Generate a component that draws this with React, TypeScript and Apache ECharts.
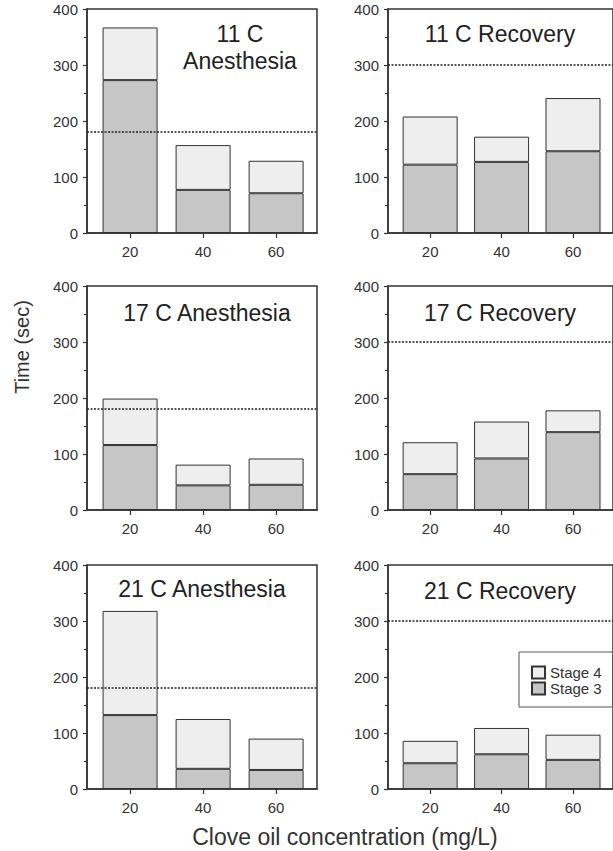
import React, { useEffect, useRef } from "react";
import * as echarts from "echarts";

// ---- data ----
const concentrations = [20, 40, 60];
const panelTitles = [
  "11 C\nAnesthesia",
  "11 C Recovery",
  "17 C Anesthesia",
  "17 C Recovery",
  "21 C Anesthesia",
  "21 C Recovery",
];
// Stage 3 (bottom segment) and Stage 4 (top segment) times in seconds
const stage3_11A = [273, 77, 71];
const stage4_11A = [94, 80, 58];
const stage3_11R = [122, 127, 146];
const stage4_11R = [86, 45, 95];
const stage3_17A = [116, 44, 45];
const stage4_17A = [83, 37, 47];
const stage3_17R = [64, 92, 139];
const stage4_17R = [57, 66, 39];
const stage3_21A = [132, 36, 34];
const stage4_21A = [186, 89, 56];
const stage3_21R = [46, 62, 52];
const stage4_21R = [40, 47, 45];
const thresholds = [180, 300, 180, 300, 180, 300];
const yTickValues = [0, 100, 200, 300, 400];

const stage3All = [stage3_11A, stage3_11R, stage3_17A, stage3_17R, stage3_21A, stage3_21R];
const stage4All = [stage4_11A, stage4_11R, stage4_17A, stage4_17R, stage4_21A, stage4_21R];

// ---- layout ----
const FONT = '"Liberation Sans", Arial, Helvetica, sans-serif';
const colLeft = [87, 388];
const rowTop = [9, 286, 565];
const gridW = 230;
const gridH = 224;
const titleX = [240, 500, 207, 500, 202, 500];
const titleY = [20, 20, 299, 299, 575, 577];
const AX = "#333";

export default function App() {
  const ref = useRef<HTMLDivElement>(null);
  useEffect(() => {
    document.body.style.margin = "0";
    const chart = echarts.init(ref.current!, null, { renderer: "svg" });
    const grids: any[] = [];
    const xAxes: any[] = [];
    const yAxes: any[] = [];
    const series: any[] = [];
    const titles: any[] = [];
    for (let i = 0; i < 6; i++) {
      const r = Math.floor(i / 2);
      const c = i % 2;
      grids.push({
        left: colLeft[c],
        top: rowTop[r],
        width: gridW,
        height: gridH,
        show: true,
        borderColor: AX,
        borderWidth: 1.5,
        backgroundColor: "transparent",
      });
      xAxes.push({
        gridIndex: i,
        type: "value",
        min: 8.2,
        max: 71.2,
        splitLine: { show: false },
        axisLine: { show: true, onZero: false, lineStyle: { color: AX, width: 1.5 } },
        axisTick: { show: true, customValues: concentrations, length: 5, lineStyle: { color: AX, width: 1.2 } },
        axisLabel: { customValues: concentrations, margin: 11, fontSize: 15, color: "#333", fontFamily: FONT },
      });
      yAxes.push({
        gridIndex: i,
        type: "value",
        min: 0,
        max: 400,
        interval: 100,
        splitLine: { show: false },
        axisLine: { show: true, lineStyle: { color: AX, width: 1.5 } },
        axisTick: { show: true, length: 4, lineStyle: { color: AX, width: 1.2 } },
        minorTick: { show: true, splitNumber: 2, length: 3, lineStyle: { color: AX, width: 1.2 } },
        axisLabel: {
          margin: 9,
          fontSize: 15,
          color: "#333",
          fontFamily: FONT,
          formatter: (v: number) => (yTickValues.includes(v) ? String(v) : ""),
        },
      });
      // value first so that the stacked dimension is the time (y) dimension
      series.push({
        type: "bar",
        name: "Stage 3",
        xAxisIndex: i,
        yAxisIndex: i,
        stack: "s" + i,
        barWidth: 55,
        dimensions: ["time", "conc"],
        encode: { x: "conc", y: "time" },
        data: concentrations.map((x, j) => [stage3All[i][j], x]),
        itemStyle: { color: "#c6c6c6", borderColor: "#333", borderWidth: 1 },
      });
      series.push({
        type: "bar",
        name: "Stage 4",
        xAxisIndex: i,
        yAxisIndex: i,
        stack: "s" + i,
        barWidth: 55,
        dimensions: ["time", "conc"],
        encode: { x: "conc", y: "time" },
        data: concentrations.map((x, j) => [stage4All[i][j], x]),
        itemStyle: { color: "#eeeeee", borderColor: "#333", borderWidth: 1 },
        markLine: {
          silent: true,
          symbol: "none",
          label: { show: false },
          lineStyle: { type: [2, 1.5], color: "#222", width: 1.5 },
          data: [{ yAxis: thresholds[i] }],
        },
      });
      titles.push({
        text: panelTitles[i],
        left: titleX[i],
        top: titleY[i],
        textAlign: "center",
        padding: 0,
        textStyle: { fontSize: 23, fontWeight: "normal", color: "#222", lineHeight: 27, fontFamily: FONT },
      });
    }
    chart.setOption({
      animation: false,
      textStyle: { fontFamily: FONT },
      title: titles,
      grid: grids,
      xAxis: xAxes,
      yAxis: yAxes,
      series,
      legend: {
        data: ["Stage 4", "Stage 3"],
        orient: "vertical",
        left: 519,
        top: 652,
        itemWidth: 13,
        itemHeight: 12,
        itemGap: 1,
        icon: "rect",
        selectedMode: false,
        borderColor: "#555",
        borderWidth: 1,
        padding: [13, 11, 11, 12],
        textStyle: { fontSize: 15, color: "#333", lineHeight: 13, fontFamily: FONT },
      },
      graphic: [
        {
          type: "text",
          x: 22,
          y: 347,
          rotation: Math.PI / 2,
          style: {
            text: "Time (sec)",
            font: `20px ${FONT}`,
            fill: "#333",
            align: "center",
            verticalAlign: "middle",
          },
        },
        {
          type: "text",
          x: 345,
          y: 837,
          style: {
            text: "Clove oil concentration (mg/L)",
            font: `23px ${FONT}`,
            fill: "#333",
            align: "center",
            verticalAlign: "middle",
          },
        },
      ],
    });
    return () => chart.dispose();
  }, []);
  return <div ref={ref} style={{ width: 613, height: 851, overflow: "hidden" }} />;
}
